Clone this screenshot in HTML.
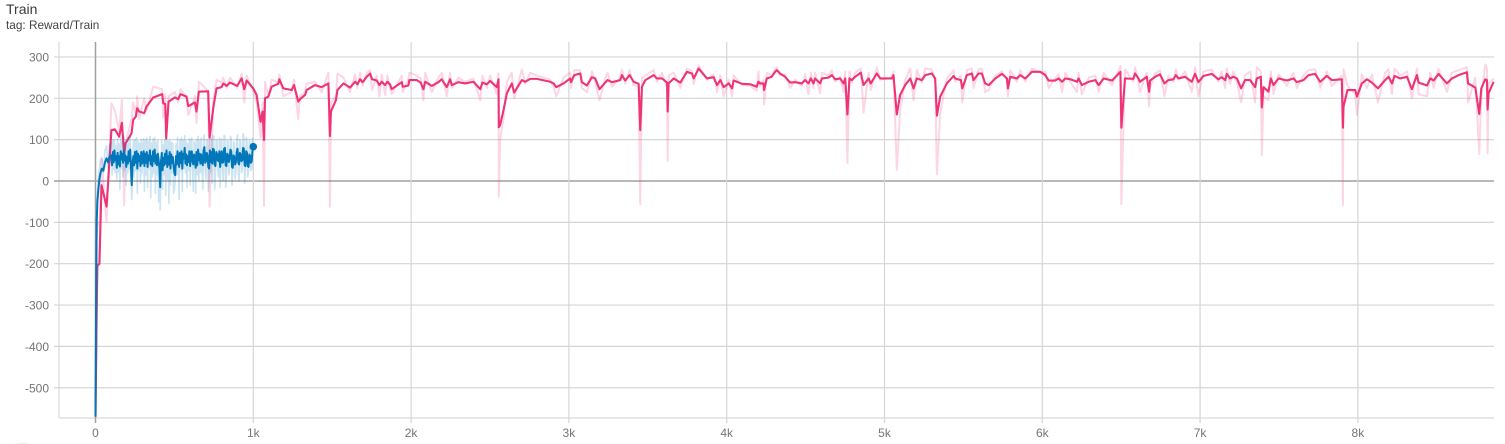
<!DOCTYPE html>
<html lang="en">
<head>
<meta charset="utf-8">
<title>Train - Reward/Train</title>
<style>
html,body{margin:0;padding:0;background:#fff;width:1505px;height:444px;overflow:hidden}
svg{display:block;font-family:"Liberation Sans",sans-serif}
</style>
</head>
<body>
<svg id="chart" width="1505" height="444" viewBox="0 0 1505 444" xmlns="http://www.w3.org/2000/svg">
  <text x="6" y="14" font-size="14" fill="#3a3a3a">Train</text>
  <text x="6" y="29" font-size="11.8" fill="#444">tag: Reward/Train</text>
  <g id="grid"></g>
  <g id="labels"></g>
  <g id="series"></g>
  <path d="M14 444 Q22 441.5 30 444 Z" fill="#eeeeee"></path>
</svg>
<script>
const xTickValues = [0,1000,2000,3000,4000,5000,6000,7000,8000];
const xTickLabels = ["0","1k","2k","3k","4k","5k","6k","7k","8k"];
const yTickValues = [300,200,100,0,-100,-200,-300,-400,-500];

const pinkSteps = [
0,8,12,25,38,70,101,123,150,167,
182,190,228,239,256,264,277,309,323,366,
423,429,442,448,463,503,524,539,577,588,
630,640,655,714,723,746,767,799,810,831,
852,898,926,943,958,1000,1021,1046,1059,1068,
1074,1095,1116,1158,1165,1190,1243,1258,1285,1296,
1328,1338,1391,1433,1476,1486,1492,1524,1533,1571,
1613,1645,1660,1677,1693,1719,1740,1753,1782,1799,
1814,1835,1850,1867,1877,1941,1947,1983,1989,2036,
2061,2078,2089,2131,2173,2194,2226,2247,2258,2300,
2342,2395,2438,2452,2480,2501,2543,2554,2556,2564,
2586,2607,2638,2653,2702,2723,2755,2797,2882,2903,
2920,2966,3008,3013,3034,3072,3082,3114,3146,3167,
3194,3230,3245,3273,3325,3336,3357,3385,3410,3442,
3452,3463,3484,3537,3558,3590,3622,3626,3632,3664,
3706,3748,3780,3791,3822,3875,3917,3939,3960,3981,
4013,4034,4044,4097,4150,
4190,4201,4211,4233,4237,4254,4285,4307,4317,4338,
4370,4402,4433,4476,4497,4518,4533,4550,4560,4592,
4603,4645,4666,4687,4719,4740,4751,4765,4778,4793,
4814,4850,4867,4899,4913,4951,4973,5047,5057,5078,
5099,5131,5163,5184,5205,5237,5258,5300,5321,5332,
5353,5395,5438,5448,5484,5493,5522,5554,5564,5596,
5617,5638,5660,5702,5744,5776,5782,5797,5839,5860,
5892,5934,5987,6019,6040,6082,6104,6125,6146,6178,
6220,6230,6251,6294,6336,6357,6389,6442,6495,6501,
6524,6577,6588,6609,6619,6662,6677,6683,6715,6746,
6774,6799,6831,6846,6863,6905,6947,6968,6989,7021,
7074,7116,7137,7159,7169,7190,7211,7233,7260,7285,
7317,7349,7359,7385,7391,7402,7433,7448,7465,7497,
7550,7592,7613,7655,7687,7729,7761,7803,7835,7898,
7905,7909,7934,7983,7994,8025,8057,8089,8127,8173,
8194,8216,8232,8268,8311,8342,8374,8385,8438,8459,
8480,8511,8564,8596,8638,8691,8698,8744,8769,8782,
8807,8818,8822,8828,8860
];
const pinkSmoothed = [
-570,-300,-205,-200,-10,-62,123,125,107,141,
67,91,115,148,156,176,168,164,180,202,
210,188,186,103,192,202,198,210,204,181,
190,168,216,217,105,176,224,227,236,230,
238,230,248,222,243,224,208,143,168,99,
200,204,228,235,246,224,220,232,192,198,
208,220,232,227,236,109,168,196,220,236,
226,240,234,246,239,252,260,246,243,232,
240,232,240,233,222,239,228,231,244,244,
238,222,240,230,239,246,227,246,232,239,
236,240,222,238,234,242,227,246,130,135,
172,212,236,214,244,240,247,247,240,236,
227,236,248,239,256,260,239,231,251,248,
222,238,244,239,244,256,243,256,240,235,
123,228,244,256,248,248,238,168,236,248,
238,264,260,248,272,248,251,232,244,227,
236,224,243,235,234,
228,240,236,236,220,248,252,264,268,260,
252,238,239,236,244,236,248,236,248,236,
248,250,256,246,248,236,248,161,248,244,
252,262,232,248,236,260,248,248,256,161,
208,232,248,224,248,244,256,260,248,158,
204,236,254,248,244,224,256,260,244,260,
260,236,232,248,259,248,224,252,248,256,
248,264,264,256,243,243,248,240,248,246,
240,248,232,240,244,232,248,243,264,129,
248,247,260,248,240,252,216,243,252,258,
236,244,246,256,248,252,240,259,239,254,
259,246,251,244,259,248,252,248,224,244,
244,227,248,252,178,227,216,248,232,248,
243,248,239,244,256,259,240,254,244,246,
129,180,220,220,204,236,246,238,224,244,
252,236,254,248,252,222,256,238,231,248,
243,259,236,248,256,263,236,226,162,224,
246,244,173,212,240
];
const pinkRaw = [
-570,-300,-100,-110,55,-98,188,170,120,196,
-58,90,150,190,160,205,150,200,170,228,
222,155,210,105,205,215,190,222,200,160,
205,140,240,218,-62,190,245,238,250,225,
250,225,260,190,255,215,190,105,190,-60,
240,205,245,238,258,205,215,245,150,205,
215,235,240,215,262,-62,190,205,260,250,
215,258,225,262,230,262,268,220,255,205,
258,208,255,225,210,255,215,248,262,255,
248,195,262,215,250,262,205,262,225,250,
240,248,195,255,225,255,210,260,-38,100,
150,240,262,200,270,235,262,255,245,228,
205,250,262,225,268,268,225,215,265,240,
195,248,262,228,250,270,235,268,232,228,
-56,250,255,268,240,262,225,49,255,262,
225,272,265,235,280,245,258,215,255,205,
245,205,255,232,230,
218,265,228,245,185,262,255,272,275,255,
258,225,245,230,258,210,262,225,262,212,
262,255,268,240,252,215,265,44,265,238,
262,272,165,262,220,275,245,250,265,27,
170,245,272,195,268,238,272,270,245,16,
165,248,268,240,255,190,268,272,225,270,
272,215,220,255,265,245,205,268,240,268,
240,272,262,265,225,248,258,215,262,240,
215,262,210,250,255,215,262,232,278,-56,
270,240,275,240,215,262,180,225,260,268,
205,255,240,270,245,265,215,275,205,265,
270,240,265,225,272,235,265,240,190,255,
265,190,275,265,63,205,195,265,210,258,
230,262,225,255,268,270,225,265,230,255,
-58,270,230,210,160,258,225,258,190,262,
270,210,272,255,265,200,272,210,205,262,
225,272,215,262,268,275,190,250,65,205,
282,270,67,235,248
];

const blueSteps = [
0,3,6,8,12,18,25,32,40,50,60,70,80,90,
100,105,110,115,120,125,130,135,140,145,150,155,160,165,170,175,180,185,190,195,
200,205,210,215,220,225,230,235,240,245,250,255,260,265,270,275,280,285,290,295,
300,305,310,315,320,325,330,335,340,345,350,355,360,365,370,375,380,385,390,395,
400,405,410,415,420,425,430,435,440,445,450,455,460,465,470,475,480,485,490,495,
500,505,510,515,520,525,530,535,540,545,550,555,560,565,570,575,580,585,590,595,
600,605,610,615,620,625,630,635,640,645,650,655,660,665,670,675,680,685,690,695,
700,705,710,715,720,725,730,735,740,745,750,755,760,765,770,775,780,785,790,795,
800,805,810,815,820,825,830,835,840,845,850,855,860,865,870,875,880,885,890,895,
900,905,910,915,920,925,930,935,940,945,950,955,960,965,970,975,980,985,990,995,
1000
];
const blueSmoothed = [
-570,-350,-150,-95,-50,-20,5,20,30,25,45,55,45,60,
62,38,70,45,74,50,60,32,68,40,60,35,72,52,66,44,74,50,62,34,
58,42,72,48,76,30,-10,45,60,38,70,44,72,30,66,48,60,36,70,42,
54,72,36,66,44,70,34,62,50,74,40,60,36,72,48,76,42,62,38,66,
52,30,-15,48,68,26,56,38,66,42,74,34,60,40,70,30,64,44,58,36,
20,14,60,40,72,52,34,68,44,72,30,66,54,80,42,64,38,60,46,72,
36,68,72,46,40,64,58,32,70,38,76,50,66,42,64,52,38,74,82,44,
48,68,62,34,30,74,46,70,42,78,76,40,36,70,66,50,48,72,34,60,
72,44,46,78,80,38,36,66,62,46,54,76,72,34,32,62,58,40,46,70,
78,44,40,68,64,48,50,80,78,38,36,72,68,36,34,64,60,44,48,74,
83
];
const blueRaw = [
-570,-300,-100,-80,-30,10,30,50,55,20,75,85,30,88,
92,15,100,28,98,20,85,5,102,22,90,-20,105,30,95,10,108,25,88,-10,
95,20,104,28,106,-5,-45,18,98,10,100,25,105,-30,96,25,92,-5,100,20,
88,102,-25,98,15,104,-15,96,30,108,-40,92,10,102,20,106,-30,94,15,98,
-50,10,-70,20,98,-20,88,15,100,-35,104,5,96,-55,100,-10,94,20,92,-30,
-20,0,90,15,106,35,-45,100,25,106,-25,98,30,110,20,95,-15,90,25,102,
-10,98,104,25,-25,95,90,-30,100,15,108,0,98,20,104,30,-20,106,112,25,
5,100,96,-25,10,105,20,102,-5,110,108,-20,10,100,98,25,10,104,-15,95,
102,20,0,110,108,-15,15,98,96,15,30,108,104,-10,20,95,92,5,25,100,
112,15,0,100,96,20,28,115,108,-5,20,105,98,10,25,98,92,25,30,104,
100
];

const NS = "http://www.w3.org/2000/svg";
const plotLeft = 59, plotRight = 1494, plotTop = 42, plotBottom = 418;
function xScale(step){ return 95.5 + step * 0.1578; }
function yScale(value){ return 181 - value * 0.4135; }

function makeLine(parent, x1, y1, x2, y2, color, width){
  const el = document.createElementNS(NS, "line");
  el.setAttribute("x1", x1);
  el.setAttribute("y1", y1);
  el.setAttribute("x2", x2);
  el.setAttribute("y2", y2);
  el.setAttribute("stroke", color);
  el.setAttribute("stroke-width", width);
  parent.appendChild(el);
  return el;
}
function makeLabel(parent, x, y, anchor, content){
  const el = document.createElementNS(NS, "text");
  el.setAttribute("x", x);
  el.setAttribute("y", y);
  el.setAttribute("text-anchor", anchor);
  el.setAttribute("font-size", "12");
  el.setAttribute("fill", "#757575");
  el.textContent = content;
  parent.appendChild(el);
  return el;
}
function makePath(parent, steps, values, color, width, opacity){
  let d = "";
  for (let i = 0; i < steps.length; i++) {
    d += (i ? "L" : "M") + xScale(steps[i]).toFixed(2) + " " + yScale(values[i]).toFixed(2);
  }
  const el = document.createElementNS(NS, "path");
  el.setAttribute("d", d);
  el.setAttribute("fill", "none");
  el.setAttribute("stroke", color);
  el.setAttribute("stroke-width", width);
  el.setAttribute("stroke-opacity", opacity);
  el.setAttribute("stroke-linejoin", "round");
  parent.appendChild(el);
  return el;
}

const grid = document.getElementById("grid");
const labels = document.getElementById("labels");
const series = document.getElementById("series");

const leftAxis = makeLine(grid, plotLeft, plotTop, plotLeft, plotBottom, "#e0e0e0", 1.5);


const bottomAxis = makeLine(grid, plotLeft, plotBottom, plotRight, plotBottom, "#e0e0e0", 1.5);



yTickValues.forEach(function(v){
  const y = yScale(v);
  const isZero = v === 0;
  const gl = makeLine(grid, plotLeft - 5, y, plotRight, y, isZero ? "#a0a0a0" : "#d6d6d6", isZero ? 1.5 : 1.2);
  
  
  const lab = makeLabel(labels, 49, y + 4.5, "end", String(v));
  
  
});
xTickValues.forEach(function(s, i){
  const x = xScale(s);
  const isZero = s === 0;
  const gl = makeLine(grid, x, plotTop, x, plotBottom + 5, isZero ? "#a0a0a0" : "#d6d6d6", isZero ? 1.5 : 1.2);
  
  
  const lab = makeLabel(labels, x, 437, "middle", xTickLabels[i]);
  
  
});

const pinkRawPath = makePath(series, pinkSteps, pinkRaw, "#ee3377", 2, 0.2);


const pinkPath = makePath(series, pinkSteps, pinkSmoothed, "#ee3377", 2.1, 1);


const blueRawPath = makePath(series, blueSteps, blueRaw, "#0077bb", 1.6, 0.2);


const bluePath = makePath(series, blueSteps, blueSmoothed, "#0077bb", 2, 1);



const endDot = document.createElementNS(NS, "circle");
endDot.setAttribute("cx", xScale(blueSteps[blueSteps.length - 1]));
endDot.setAttribute("cy", yScale(blueSmoothed[blueSmoothed.length - 1]));
endDot.setAttribute("r", "3.8");
endDot.setAttribute("fill", "#0077bb");


series.appendChild(endDot);
</script>
</body>
</html>
